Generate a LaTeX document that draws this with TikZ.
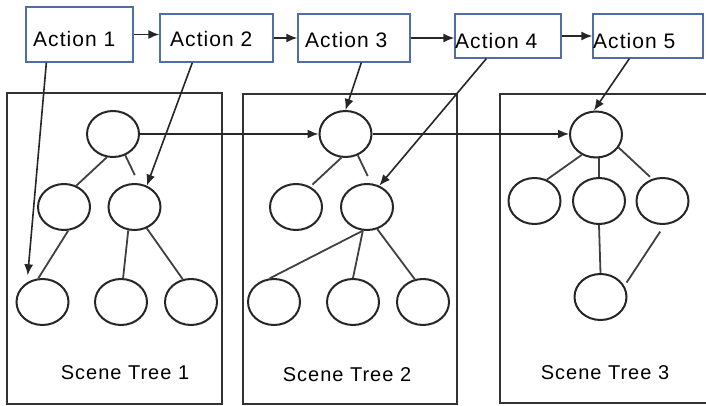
\documentclass[tikz,border=0pt]{standalone}
\usepackage{fontspec}
\setmainfont{Liberation Sans}[LetterSpace=5]
\usetikzlibrary{shapes.geometric,arrows.meta}

\definecolor{actblue}{RGB}{80,110,165}

\tikzset{
  action/.style={draw=actblue, line width=1.3pt, inner sep=0pt},
  acttext/.style={anchor=west, inner sep=0pt, font=\fontsize{21}{24}\selectfont},
  scenetext/.style={inner sep=0pt, font=\fontsize{20}{24}\selectfont},
  scene/.style={draw=black!80, line width=2pt},
  leaf/.style={ellipse, draw=black!85, line width=2pt, minimum width=52pt, minimum height=46pt, inner sep=0pt},
  link/.style={draw=black!75, line width=1.8pt},
  arr/.style={draw=black!85, line width=1.6pt, -{Latex[length=11pt,width=9pt]}},
}

\begin{document}
\begin{tikzpicture}[x=1pt,y=-1pt]
    \useasboundingbox (0,0) rectangle (706,406);
    \clip (0,0) rectangle (706,406);

    % the three scene frames
    \draw[scene] (7,93) rectangle (222,404);
    \draw[scene] (243,94) rectangle (457,404);
    \draw[scene] (500,94) rectangle (720,403);

    % action boxes
    \node[action, minimum width=107pt, minimum height=55pt] (act1) at (79.5,34.5) {};
    \node[action, minimum width=113pt, minimum height=48pt] (act2) at (216.5,38) {};
    \node[action, minimum width=112pt, minimum height=48pt] (act3) at (354,38) {};
    \node[action, minimum width=106pt, minimum height=44pt] (act4) at (508,36) {};
    \node[action, minimum width=110pt, minimum height=44pt] (act5) at (648,36) {};
    \node[acttext] (txt1) at (33,39) {Action 1};
    \node[acttext] (txt2) at (170,39) {Action 2};
    \node[acttext] (txt3) at (305,40) {Action 3};
    \node[acttext] (txt4) at (455,41) {Action 4};
    \node[acttext] (txt5) at (593,41) {Action 5};

    % tree 1
    \node[leaf] (a0) at (113,134) {};
    \node[leaf] (a1) at (64,207) {};
    \node[leaf] (a2) at (134.5,207) {};
    \node[leaf] (a3) at (42.5,302) {};
    \node[leaf] (a4) at (121,302) {};
    \node[leaf] (a5) at (191,302) {};
    \node[scenetext] (lab1) at (125,373) {Scene Tree 1};

    % tree 2
    \node[leaf] (b0) at (345.5,134) {};
    \node[leaf] (b1) at (296,207) {};
    \node[leaf] (b2) at (367,207) {};
    \node[leaf] (b3) at (274,302) {};
    \node[leaf] (b4) at (353,302) {};
    \node[leaf] (b5) at (423,302) {};
    \node[scenetext] (lab2) at (347,375) {Scene Tree 2};

    % tree 3
    \node[leaf] (c0) at (596,134.5) {};
    \node[leaf] (c1) at (534.5,201) {};
    \node[leaf] (c2) at (599,201) {};
    \node[leaf] (c3) at (662.5,201) {};
    \node[leaf] (c4) at (600.5,297) {};
    \node[scenetext] (lab3) at (605,373) {Scene Tree 3};

    \draw[link] (a0.-105) -- (a1.60);
    \draw[link, shorten >=9pt] (a0.-60) -- (a2.80);
    \draw[link] (a1.-80) -- (a3.100);
    \draw[link] (a2.-105) -- (a4.85);
    \draw[link] (a2.-60) -- (a5.110);

    \draw[link, shorten >=3pt] (b0.-100) -- (b1.55);
    \draw[link, shorten >=8pt] (b0.-60) -- (b2.80);
    \draw[link] (b2.-100) -- (b3.100);
    \draw[link] (b2.-100) -- (b4.90);
    \draw[link] (b2.-65) -- (b5.110);

    \draw[link] (c0.-125) -- (c1.60);
    \draw[link] (c2.north) -- (c2.north |- c0.south);
    \draw[link, shorten >=3pt] (c0.-30) -- (c3.115);
    \draw[link] (c2.south) -- (c4.north);
    \draw[link, shorten <=8pt, shorten >=4pt] (c3.-85) -- (c4.25);

    % action sequence
    \draw[arr] (act1.east) -- (act1.east -| act2.west);
    \draw[arr] (act2.east) -- (act2.east -| act3.west);
    \draw[arr] (act3.east) -- (act3.east -| act4.west);
    \draw[arr] (act4.east) -- (act4.east -| act5.west);

    % actions into the trees
    \draw[arr, shorten >=7pt] ([xshift=21pt]act1.south west) -- (a3.128);
    \draw[arr] ([xshift=33pt]act2.south west) -- (a2.60);
    \draw[arr] ([xshift=64pt]act3.south west) -- (b0.north);
    \draw[arr] ([xshift=32pt]act4.south west) -- (b2.60);
    \draw[arr] ([xshift=37pt]act5.south west) -- (c0.95);

    % root to root
    \draw[arr] (a0) -- (b0);
    \draw[arr] (b0.east) -- (b0.east -| c0.west);
\end{tikzpicture}
\end{document}
